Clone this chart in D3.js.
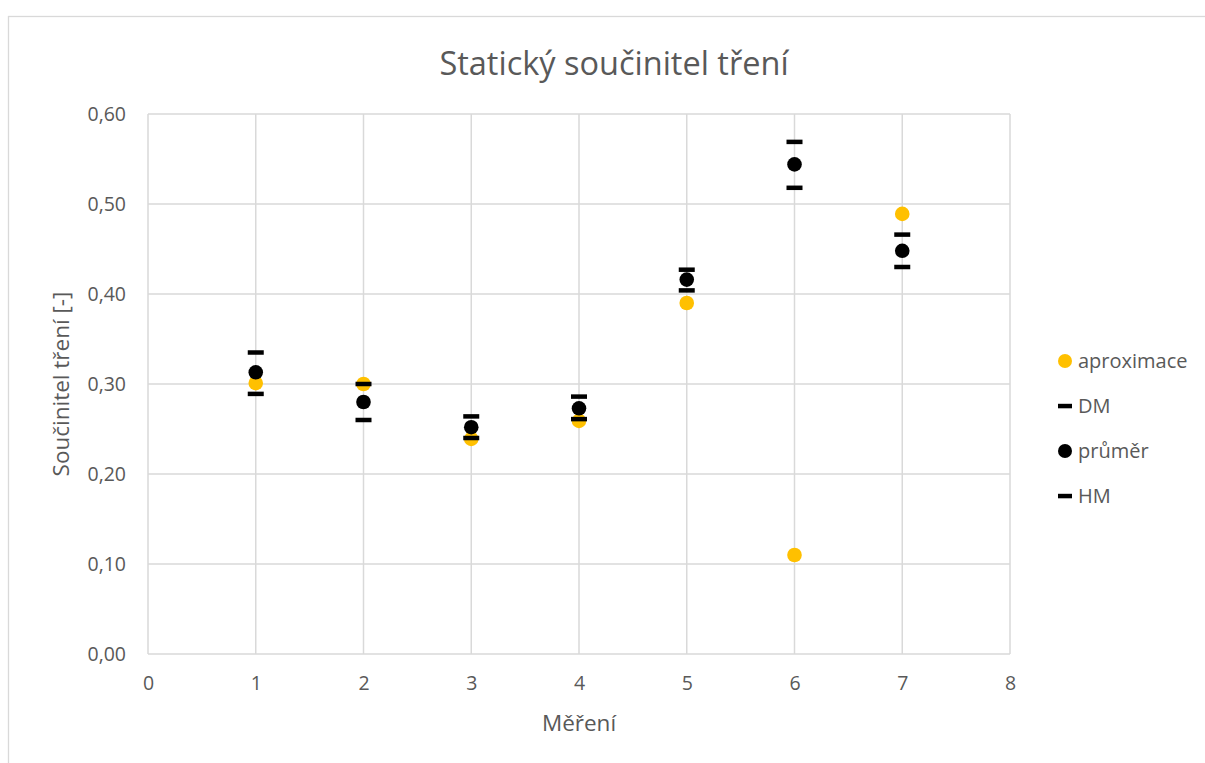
<!DOCTYPE html>
<html>
<head>
<meta charset="utf-8">
<script src="https://cdn.jsdelivr.net/npm/d3@7"></script>
<style>
  html, body { margin: 0; padding: 0; background: #fff; }
  svg { display: block; font-family: "Open Sans", "Noto Sans", sans-serif; }
</style>
</head>
<body>
<svg id="chart" width="1205" height="763"></svg>
<script>
const mereni = [1, 2, 3, 4, 5, 6, 7];
const aproximace = [0.301, 0.300, 0.239, 0.259, 0.390, 0.110, 0.489];
const prumer = [0.313, 0.280, 0.252, 0.273, 0.416, 0.544, 0.448];
const HM = [0.335, 0.300, 0.264, 0.286, 0.427, 0.569, 0.466];
const DM = [0.289, 0.260, 0.240, 0.261, 0.404, 0.518, 0.430];
const xTicks = [0, 1, 2, 3, 4, 5, 6, 7, 8];
const yTicks = [0, 0.1, 0.2, 0.3, 0.4, 0.5, 0.6];
const legendItems = [
  { name: "aproximace", type: "circle", color: "#FFC000" },
  { name: "DM", type: "dash", color: "#000000" },
  { name: "průměr", type: "circle", color: "#000000" },
  { name: "HM", type: "dash", color: "#000000" }
];

const svg = d3.select("#chart");
const textColor = "#595959";
const gridColor = "#d9d9d9";

// chart border
svg.append("rect").attr("x", 8.5).attr("y", 16.5).attr("width", 1205).attr("height", 763)
  .attr("fill", "#fff").attr("stroke", "#d9d9d9").attr("stroke-width", 1.3);

const plot = { left: 148, right: 1010, top: 114, bottom: 654 };
const x = d3.scaleLinear().domain([0, 8]).range([plot.left, plot.right]);
const y = d3.scaleLinear().domain([0, 0.6]).range([plot.bottom, plot.top]);

// gridlines
svg.append("g").selectAll("line").data(yTicks).join("line")
  .attr("x1", plot.left).attr("x2", plot.right)
  .attr("y1", d => y(d)).attr("y2", d => y(d))
  .attr("stroke", gridColor).attr("stroke-width", 1.5);
svg.append("g").selectAll("line").data(xTicks).join("line")
  .attr("y1", plot.top).attr("y2", plot.bottom)
  .attr("x1", d => x(d)).attr("x2", d => x(d))
  .attr("stroke", gridColor).attr("stroke-width", 1.5);

// axes (labels only)
const fmt = d => d3.format(".2f")(d).replace(".", ",");
const yAxis = svg.append("g").attr("transform", `translate(${plot.left},0)`)
  .call(d3.axisLeft(y).tickValues(yTicks).tickFormat(fmt).tickSize(0).tickPadding(22));
yAxis.select(".domain").remove();
yAxis.selectAll("text").attr("fill", textColor).style("font-size", "19.5px").style("font-family", "Open Sans");

const xAxis = svg.append("g").attr("transform", `translate(0,${plot.bottom})`)
  .call(d3.axisBottom(x).tickValues(xTicks).tickFormat(d3.format("d")).tickSize(0).tickPadding(22));
xAxis.select(".domain").remove();
xAxis.selectAll("text").attr("fill", textColor).style("font-size", "19.5px").style("font-family", "Open Sans");

// axis titles
svg.append("text").attr("x", (plot.left + plot.right) / 2).attr("y", 731)
  .attr("text-anchor", "middle").attr("fill", textColor).style("font-size", "22.5px")
  .text("Měření");
svg.append("text").attr("transform", `translate(69,${(plot.top + plot.bottom) / 2}) rotate(-90)`)
  .attr("text-anchor", "middle").attr("fill", textColor).style("font-size", "22.5px")
  .text("Součinitel tření [-]");

// title
svg.append("text").attr("x", 614).attr("y", 75)
  .attr("text-anchor", "middle").attr("fill", textColor).style("font-size", "32.5px")
  .text("Statický součinitel tření");

// series
const dashW = 16, dashH = 4.5, r = 7.3;
const gA = svg.append("g");
gA.selectAll("circle").data(mereni).join("circle")
  .attr("cx", d => x(d)).attr("cy", (d, i) => y(aproximace[i])).attr("r", r).attr("fill", "#FFC000");
const gD = svg.append("g");
gD.selectAll("rect").data(mereni).join("rect")
  .attr("x", d => x(d) - dashW / 2).attr("y", (d, i) => y(DM[i]) - dashH / 2)
  .attr("width", dashW).attr("height", dashH).attr("fill", "#000");
const gP = svg.append("g");
gP.selectAll("circle").data(mereni).join("circle")
  .attr("cx", d => x(d)).attr("cy", (d, i) => y(prumer[i])).attr("r", r).attr("fill", "#000");
const gH = svg.append("g");
gH.selectAll("rect").data(mereni).join("rect")
  .attr("x", d => x(d) - dashW / 2).attr("y", (d, i) => y(HM[i]) - dashH / 2)
  .attr("width", dashW).attr("height", dashH).attr("fill", "#000");

// legend
const leg = svg.append("g").attr("transform", "translate(1065,361)");
const li = leg.selectAll("g").data(legendItems).join("g")
  .attr("transform", (d, i) => `translate(0,${i * 45})`);
li.filter(d => d.type === "circle").append("circle").attr("r", 7).attr("fill", d => d.color);
li.filter(d => d.type === "dash").append("rect").attr("x", -7).attr("y", -2.2).attr("width", 14).attr("height", 4.5).attr("fill", d => d.color);
li.append("text").attr("x", 13).attr("dy", "0.35em").attr("fill", textColor).style("font-size", "20px")
  .text(d => d.name);
</script>
</body>
</html>
